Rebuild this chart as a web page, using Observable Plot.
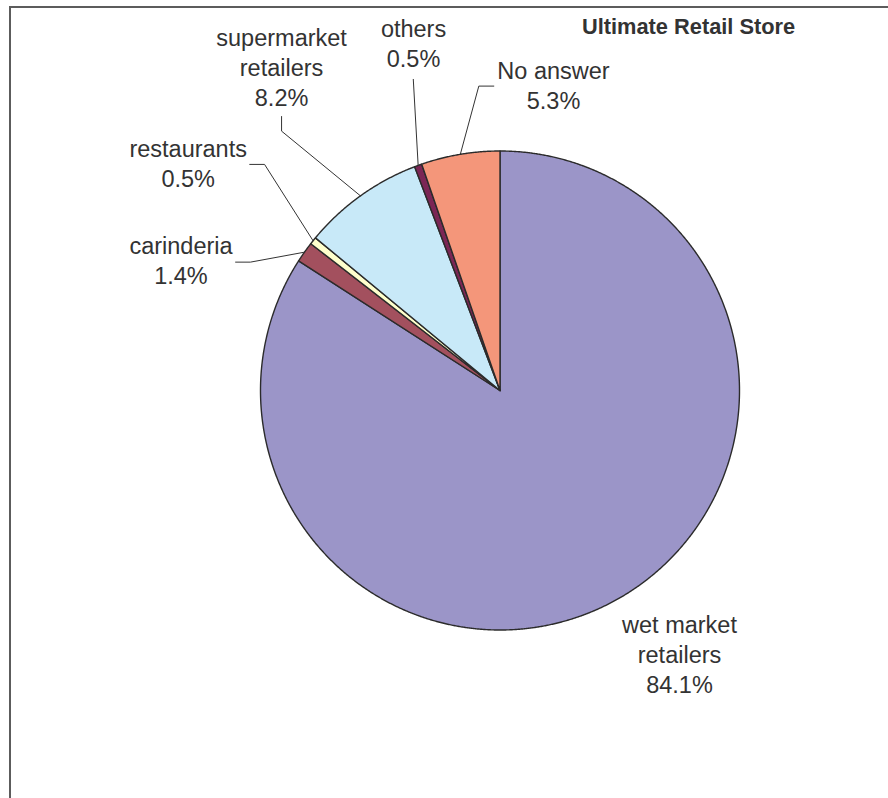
<!DOCTYPE html>
<html>
<head>
<meta charset="utf-8">
<script src="https://cdn.jsdelivr.net/npm/d3@7"></script>
<script src="https://cdn.jsdelivr.net/npm/@observablehq/plot@0.6"></script>
<style>
  html, body { margin: 0; padding: 0; background: #fff; }
  #wrap { position: relative; width: 888px; height: 798px; overflow: hidden; }
  #frame { position: absolute; left: 9px; top: 6px; width: 1000px; height: 1000px;
           border-left: 2.5px solid #5c5c5c; border-top: 2.5px solid #5c5c5c; box-sizing: border-box; }
  #chart { position: absolute; left: 0; top: 0; }
  #title { position: absolute; left: 0; top: 14px; width: 888px; padding-left: 0;
           font: bold 21.8px "Liberation Sans", Arial, sans-serif; color: #333; }
  #title span { position: absolute; left: 582px; white-space: nowrap; }
</style>
</head>
<body>
<div id="wrap">
  <div id="frame"></div>
  <div id="chart"></div>
  <div id="title"><span>Ultimate Retail Store</span></div>
</div>
<script>
// ---- data ----
const categories = ["wet market retailers", "carinderia", "restaurants", "supermarket retailers", "others", "No answer"];
const labelText = ["wet market\nretailers", "carinderia", "restaurants", "supermarket\nretailers", "others", "No answer"];
const shares = [84.1, 1.4, 0.5, 8.2, 0.5, 5.3];
const colors = ["#9B95C8", "#A3505E", "#FFFFCC", "#C8E9F8", "#7B2655", "#F4967A"];

// ---- layout (in pie-radius units, centre = 0,0, y up) ----
const labelPos = [ [0.7495, -1.261], [-1.332, 0.4455], [-1.302, 0.849], [-0.912, 1.189], [-0.361, 1.350], [0.2234, 1.176] ];
// leader polylines after the arc point: null = no leader
const leaderPts = [
  null,
  [[-1.042, 0.536], [-1.104, 0.536]],
  [[-0.983, 0.944], [-1.045, 0.944]],
  [[-0.912, 1.083], [-0.912, 1.144]],
  [[-0.362, 1.299]],
  [[-0.0885, 1.271], [-0.0259, 1.271]]
];

const W = 888, H = 798, CX = 499.5, CY = 390, R = 239.5;

const total = d3.sum(shares);
let cum = 0;
const slices = categories.map((c, i) => {
  const a0 = cum / total * 2 * Math.PI;
  cum += shares[i];
  const a1 = cum / total * 2 * Math.PI;
  return {name: c, a0, a1, mid: (a0 + a1) / 2, i};
});

// polygons for slices
const polyPts = [];
for (const s of slices) {
  polyPts.push({name: s.name, x: 0, y: 0});
  const n = Math.max(2, Math.ceil((s.a1 - s.a0) / (Math.PI / 720)));
  for (let k = 0; k <= n; k++) {
    const a = s.a0 + (s.a1 - s.a0) * k / n;
    polyPts.push({name: s.name, x: Math.sin(a), y: Math.cos(a)});
  }
}

// leader lines
const leaderData = [];
slices.forEach((s, i) => {
  if (!leaderPts[i]) return;
  leaderData.push({name: s.name, x: Math.sin(s.mid), y: Math.cos(s.mid)});
  for (const p of leaderPts[i]) leaderData.push({name: s.name, x: p[0], y: p[1]});
});

const labels = slices.map((s, i) => ({
  text: labelText[i] + "\n" + shares[i].toFixed(1) + "%",
  x: labelPos[i][0], y: labelPos[i][1]
}));

const chart = Plot.plot({
  width: W, height: H, margin: 0,
  x: {domain: [-CX / R, (W - CX) / R], axis: null},
  y: {domain: [-(H - CY) / R, CY / R], axis: null},
  color: {domain: categories, range: colors},
  style: {background: "transparent", overflow: "visible"},
  marks: [
    Plot.line(polyPts, {x: "x", y: "y", z: "name", fill: "name", stroke: "#2b2b2b", strokeWidth: 1.4, curve: "linear-closed", strokeLinejoin: "round"}),
    Plot.line(leaderData, {x: "x", y: "y", z: "name", stroke: "#333", strokeWidth: 1}),
    Plot.text(labels, {x: "x", y: "y", text: "text", textAnchor: "middle", lineAnchor: "bottom", lineHeight: 1.264,
      fontSize: 23.5, fontFamily: "Liberation Sans, Arial, sans-serif", fill: "#333"})
  ]
});
document.getElementById("chart").appendChild(chart);
</script>
</body>
</html>
